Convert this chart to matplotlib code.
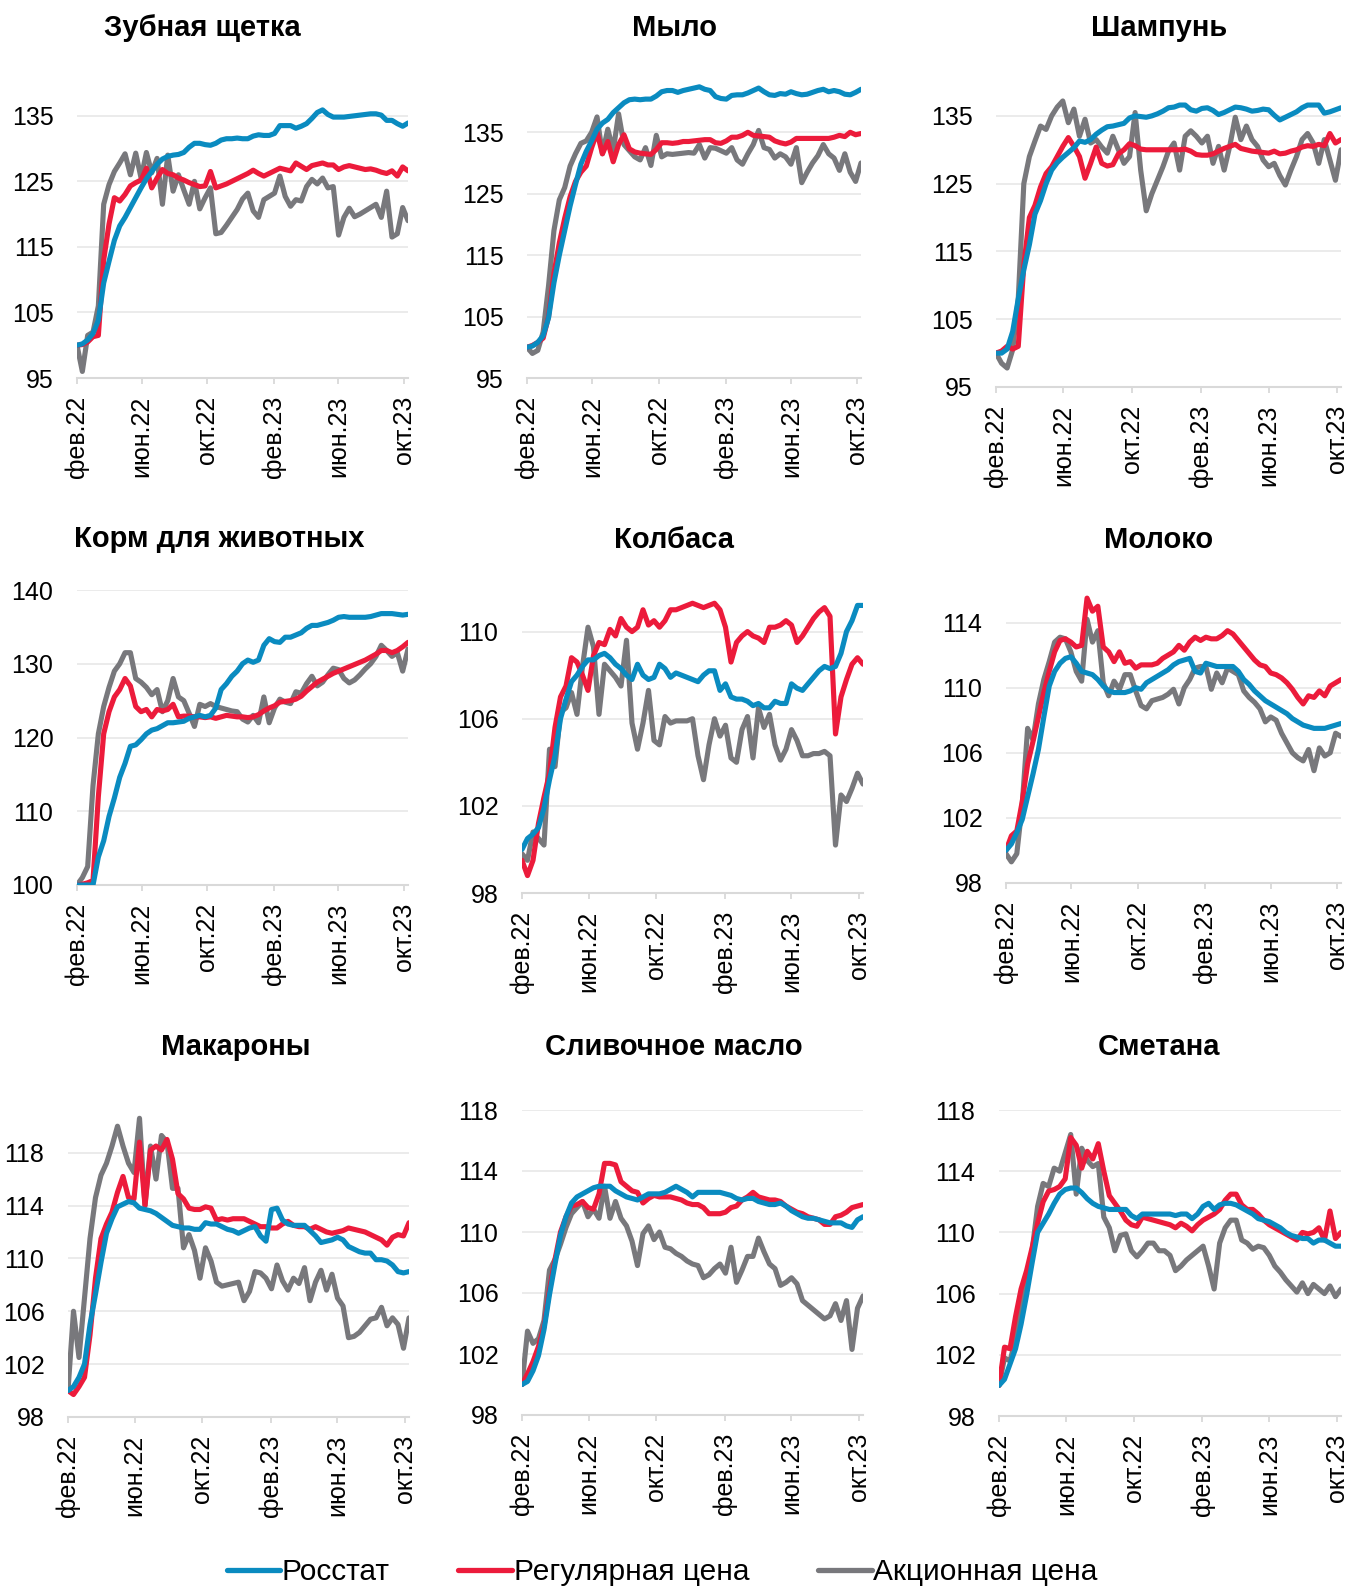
import matplotlib
matplotlib.use('Agg')
import matplotlib.pyplot as plt
import pandas as pd
from matplotlib.lines import Line2D

plt.rcParams['font.family'] = ['Liberation Sans', 'DejaVu Sans']

# даты наблюдений (примерно раз в 10 дней), фев.22 - окт.23
dates = pd.date_range('2022-02-01', '2023-10-08', periods=63)
tick_dates = pd.to_datetime(['2022-02-01', '2022-06-01', '2022-10-01',
                             '2023-02-01', '2023-06-01', '2023-10-01'])
tick_labels = ['фев.22', 'июн.22', 'окт.22', 'фев.23', 'июн.23', 'окт.23']
series_names = ['Росстат', 'Регулярная цена', 'Акционная цена']

# Зубная щетка
zub_ross = [100, 100.2, 100.8, 101.8, 103.8, 109.5, 112.8, 116, 118.2, 119.5, 121, 122.5, 124, 125.4, 126.5,
            127.6, 128.4, 128.8, 129, 129.1, 129.4, 130.2, 130.8, 130.8, 130.6, 130.5, 130.8, 131.3, 131.5,
            131.5, 131.6, 131.5, 131.5, 131.9, 132.1, 132, 132, 132.3, 133.5, 133.5, 133.5, 133.1, 133.4,
            133.8, 134.6, 135.5, 135.9, 135.2, 134.8, 134.8, 134.8, 134.9, 135, 135.1, 135.2, 135.3, 135.3,
            135.1, 134.3, 134.3, 133.8, 133.4, 133.9]
zub_reg = [100, 100.1, 100.5, 101.3, 101.5, 113, 118.5, 122.5, 122, 123, 124.3, 124.8, 125.2, 127, 124,
           125.5, 126.8, 126.2, 126, 125.5, 125.2, 124.8, 124.5, 124.2, 124.3, 126.5, 124, 124.3, 124.6, 125,
           125.4, 125.8, 126.2, 126.7, 126.2, 125.8, 126.2, 126.6, 127, 126.8, 126.6, 127.8, 127.3, 126.8,
           127.4, 127.6, 127.8, 127.5, 127.5, 126.8, 127.2, 127.4, 127.2, 127, 126.8, 126.9, 126.7, 126.4,
           126.2, 126.6, 125.8, 127.2, 126.6]
zub_promo = [100, 96, 101.5, 102, 106, 121.5, 124.5, 126.5, 127.8, 129.2, 126, 129.3, 125.5, 129.4, 126.3,
             128.5, 121.5, 129, 123.5, 126, 123.7, 121.5, 125, 120.8, 122.5, 124, 117, 117.2, 118.3, 119.5,
             120.7, 122.3, 123.2, 120.5, 119.5, 122.2, 122.7, 123.2, 125.8, 122.7, 121.2, 122.2, 122, 124.2,
             125.3, 124.6, 125.5, 124, 124.2, 116.8, 119.5, 120.9, 119.6, 120, 120.5, 121, 121.5, 119.5,
             123.5, 116.5, 117, 121, 119]

# Мыло
mylo_ross = [100, 100.2, 100.8, 101.9, 104.8, 110.5, 115, 119, 123, 126.5, 129.8, 131.9, 133.6, 135.5, 136.5,
             137.1, 138.2, 139, 139.8, 140.3, 140.4, 140.3, 140.4, 140.4, 140.9, 141.6, 141.8, 141.8, 141.5,
             141.8, 142, 142.2, 142.4, 142, 141.8, 140.8, 140.5, 140.4, 141, 141.1, 141.1, 141.4, 141.8, 142.2,
             141.6, 141.1, 141, 141.3, 141.2, 141.6, 141.3, 141.1, 141.2, 141.5, 141.8, 142, 141.6, 141.8,
             141.6, 141.2, 141.1, 141.5, 142]
mylo_reg = [100, 100.3, 100.8, 101.5, 105, 112, 117, 121, 124.5, 127, 128.5, 129.5, 132.5, 135, 131.5, 133.5,
            130.2, 133, 134.6, 132.3, 131.8, 131.6, 131.5, 131.4, 132.2, 133.3, 133.3, 133.2, 133.3, 133.5,
            133.5, 133.6, 133.7, 133.8, 133.8, 133.3, 133.2, 133.6, 134.2, 134.2, 134.5, 135, 134.5, 134.4,
            134.3, 134.2, 133.6, 133.3, 133.1, 133.4, 134, 134, 134, 134, 134, 134, 134, 134.2, 134.5, 134.3,
            135, 134.6, 134.8]
mylo_promo = [100, 99, 99.5, 102.5, 110, 119, 124, 126, 129.5, 131.5, 133.2, 133.6, 135, 137.5, 131.5, 135.5,
              132, 138, 133, 132, 131, 130.5, 132.5, 129.6, 134.5, 131, 131.5, 131.4, 131.5, 131.6, 131.7,
              131.6, 133, 130.8, 132.5, 132.4, 132, 131.6, 132.5, 130.5, 129.8, 131.5, 133, 135.3, 132.5,
              132.2, 130.8, 131.5, 131, 129.8, 132.5, 126.8, 128.5, 130, 131.2, 133, 131.5, 130.8, 128.8,
              131.5, 128.5, 127, 130]

# Шампунь
sham_ross = [100, 100, 100.6, 103.2, 108, 112.3, 116, 120.5, 122.5, 125, 127, 128.1, 128.9, 129.6, 130.3,
             131.3, 131.1, 131.5, 132.3, 132.9, 133.4, 133.5, 133.7, 133.9, 134.7, 135, 134.9, 134.8, 135,
             135.3, 135.7, 136.2, 136.3, 136.6, 136.6, 135.9, 135.7, 136.1, 136.2, 135.8, 135.2, 135.5, 135.9,
             136.3, 136.2, 136, 135.7, 135.8, 136, 135.9, 135.1, 134.4, 134.8, 135.2, 135.6, 136.2, 136.6,
             136.6, 136.6, 135.4, 135.6, 135.9, 136.2]
sham_reg = [100, 100.3, 101, 100.6, 101, 113, 120, 121.8, 124.5, 126.5, 127.5, 129, 130.5, 131.8, 130.5, 129,
            125.8, 128, 130.4, 128, 127.6, 127.8, 129.4, 130, 130.9, 130.6, 130.1, 130, 130, 130, 130, 130,
            130, 130, 130.1, 129.8, 129.3, 129.2, 129.2, 129.4, 129.8, 130.2, 130.5, 130.8, 130.2, 130, 129.8,
            129.7, 129.6, 129.5, 129.8, 129.4, 129.5, 129.8, 130, 130.4, 130.6, 130.5, 130.8, 130.6, 132.4,
            131, 131.5]
sham_promo = [100, 98.5, 97.8, 100.5, 108, 125, 129, 131.3, 133.5, 133, 135, 136.3, 137.2, 134, 136, 132,
              134.5, 131, 131.5, 130.4, 129.5, 132, 130, 128, 129, 135.5, 127, 121, 123.5, 125.5, 127.5, 129.8,
              131, 127, 132, 132.8, 132, 131, 132, 128, 130.5, 127, 130.5, 134.8, 131.5, 133.5, 131.5, 130.5,
              128.5, 127.5, 128, 126.2, 124.8, 127, 129, 131.5, 132.4, 131, 128, 131.5, 128.5, 125.5, 130]

# Корм для животных
korm_ross = [100, 100, 100, 100, 103.8, 106, 109.3, 111.8, 114.6, 116.5, 118.8, 119, 119.7, 120.5, 121, 121.2,
             121.6, 122, 122, 122.1, 122.2, 122.6, 122.8, 123, 122.8, 123, 124, 126.5, 127.3, 128.3, 129, 130,
             130.5, 130.2, 130.5, 132.5, 133.4, 133, 132.9, 133.6, 133.6, 133.9, 134.2, 134.8, 135.2, 135.2,
             135.4, 135.6, 135.9, 136.3, 136.4, 136.3, 136.3, 136.3, 136.3, 136.4, 136.6, 136.8, 136.8, 136.8,
             136.7, 136.6, 136.7]
korm_reg = [100, 100.1, 100.3, 100.6, 112, 120.5, 123.5, 125.5, 126.5, 128, 127, 124.2, 123.5, 123.8, 122.8,
            123.8, 123.6, 123.8, 124.5, 122.8, 122.9, 122.9, 122.8, 122.8, 122.7, 122.8, 122.6, 122.8, 123,
            122.9, 122.8, 122.8, 122.7, 122.8, 123.1, 123.6, 124, 124.3, 124.8, 124.9, 125, 125.2, 125.6,
            126.3, 126.9, 127.5, 127.9, 128.3, 128.7, 129, 129.3, 129.6, 129.9, 130.2, 130.5, 130.9, 131.3,
            131.8, 131.8, 131.5, 131.8, 132.3, 132.9]
korm_promo = [100, 101, 102.5, 113.5, 120.5, 124.2, 126.8, 129, 130, 131.5, 131.5, 128, 127.5, 126.8, 125.8,
              126.5, 123.5, 125, 128, 125.5, 125, 123.3, 121.5, 124.5, 124.2, 124.6, 124.2, 124, 123.8, 123.6,
              123.5, 122.5, 122.1, 123, 122, 125.5, 122, 124, 125.2, 124.8, 124.6, 126.2, 126, 127.3, 128.3,
              127, 127.5, 128.5, 129.4, 129.2, 128, 127.4, 127.8, 128.5, 129.3, 130, 131, 132.5, 131.8, 131,
              131.5, 129, 132]

# Колбаса
kolb_ross = [100, 100.5, 100.7, 101, 101.9, 103.2, 104.3, 106, 106.9, 107.7, 108, 108.4, 108.7, 108.7, 108.9,
             109, 108.8, 108.5, 108.3, 108, 107.8, 108.5, 108, 107.8, 107.9, 108.5, 108.3, 107.9, 108.1, 108,
             107.9, 107.8, 107.7, 108, 108.2, 108.2, 107.3, 107.6, 107, 106.9, 106.9, 106.8, 106.6, 106.7,
             106.5, 106.5, 106.8, 106.7, 106.7, 107.6, 107.4, 107.3, 107.6, 107.9, 108.2, 108.4, 108.3, 108.4,
             109, 110, 110.5, 111.2, 111.2]
kolb_reg = [99.5, 98.8, 99.5, 101.2, 102.4, 103.5, 105.6, 107, 107.5, 108.8, 108.6, 108, 107.3, 108.9, 109.5,
            109.4, 110.1, 109.8, 110.6, 110.2, 110, 110.2, 111, 110.3, 110.5, 110.2, 110.5, 111, 111, 111.1,
            111.2, 111.3, 111.2, 111.1, 111.2, 111.3, 111, 110.2, 108.6, 109.5, 109.8, 110, 109.8, 109.7,
            109.5, 110.2, 110.2, 110.3, 110.5, 110.3, 109.5, 109.8, 110.2, 110.6, 110.9, 111.1, 110.7, 105.3,
            107, 107.8, 108.5, 108.8, 108.5]
kolb_promo = [99.8, 99.5, 100.8, 100.5, 100.2, 104.6, 103.8, 106.3, 106.5, 107.2, 106.2, 108.4, 110.2, 109.3,
              106.2, 108.5, 108.2, 107.9, 107.5, 109.6, 105.8, 104.6, 105.8, 107.3, 105, 104.8, 106.1, 105.8,
              105.9, 105.9, 105.9, 106, 104.3, 103.2, 104.8, 106, 105.2, 105.7, 104.2, 104, 105.5, 106.1,
              104.2, 106.5, 105.6, 106.2, 104.8, 104.1, 104.6, 105.5, 105, 104.3, 104.3, 104.4, 104.4, 104.5,
              104.3, 100.2, 102.5, 102.2, 102.8, 103.5, 103]

# Молоко
mol_ross = [100, 100.4, 101.1, 101.9, 103.3, 104.7, 106.2, 108.2, 110.1, 111, 111.5, 111.8, 111.9, 111.5, 111,
            110.9, 110.8, 110.5, 110.1, 109.8, 109.7, 109.7, 109.7, 109.8, 110, 109.9, 110.3, 110.5, 110.7,
            110.9, 111.1, 111.4, 111.6, 111.7, 111.8, 111, 110.9, 111.5, 111.4, 111.3, 111.3, 111.3, 111.3,
            111, 110.5, 110.2, 109.8, 109.5, 109.2, 109, 108.8, 108.6, 108.4, 108.1, 107.9, 107.7, 107.6,
            107.5, 107.5, 107.5, 107.6, 107.7, 107.8]
mol_reg = [100, 100.9, 101.2, 103, 105.3, 106.7, 108.2, 109.7, 111, 112.2, 112.9, 113, 112.8, 112.5, 112.6,
           115.5, 114.7, 115, 112.5, 112.2, 111.6, 112.2, 111.5, 111.6, 111.2, 111.4, 111.4, 111.4, 111.5,
           111.8, 112, 112.2, 112.6, 112.3, 112.8, 113.1, 112.9, 113.1, 113, 113, 113.2, 113.5, 113.3, 112.9,
           112.5, 112.1, 111.7, 111.4, 111.3, 110.9, 110.8, 110.6, 110.3, 109.9, 109.4, 109, 109.5, 109.4,
           109.8, 109.5, 110.1, 110.3, 110.5]
mol_promo = [99.8, 99.3, 99.8, 102.8, 107.5, 106.8, 109, 110.5, 111.6, 112.8, 113.1, 113, 112.2, 111, 110.4,
             114.2, 112.8, 113.5, 110.3, 109.5, 110.4, 109.9, 110.8, 110.8, 109.8, 108.9, 108.7, 109.2, 109.3,
             109.4, 109.6, 109.9, 109, 110, 110.5, 111.2, 111.3, 111.3, 109.9, 110.9, 110.3, 111.2, 111, 110.8,
             109.8, 109.4, 109.1, 108.7, 107.9, 108.2, 108, 107.2, 106.6, 106, 105.7, 105.5, 106.2, 104.9,
             106.3, 105.8, 106, 107.2, 107]

# Макароны
mak_ross = [100, 100.3, 101, 102, 105, 107.3, 109.7, 111.9, 113, 113.9, 114.1, 114.3, 114.2, 113.8, 113.7,
            113.6, 113.4, 113.1, 112.8, 112.5, 112.4, 112.3, 112.3, 112.2, 112.2, 112.7, 112.6, 112.6, 112.4,
            112.2, 112.1, 111.9, 112.1, 112.3, 112.4, 111.7, 111.3, 113.7, 113.8, 112.9, 112.6, 112.5, 112.5,
            112.5, 112.1, 111.7, 111.2, 111.3, 111.4, 111.6, 111.4, 110.9, 110.7, 110.5, 110.4, 110.4, 109.9,
            109.9, 109.8, 109.5, 109, 108.9, 109]
mak_reg = [100, 99.7, 100.3, 101, 104.2, 108.5, 111.5, 112.6, 113.5, 115, 116.2, 114.6, 114.5, 118.8, 114,
           118.2, 118.5, 118.2, 119, 117.5, 114.9, 114.5, 113.8, 113.7, 113.7, 113.9, 113.8, 112.9, 113, 112.9,
           113, 113, 113, 112.8, 112.6, 112.4, 112.4, 112.3, 112.3, 112.6, 112.8, 112.5, 112.4, 112.4, 112.2,
           112.4, 112.2, 112, 111.9, 112, 112.1, 112.3, 112.2, 112.1, 112, 111.8, 111.6, 111.4, 111, 111.6,
           111.8, 111.7, 112.7]
mak_promo = [100, 106, 102.5, 107, 111.5, 114.6, 116.3, 117.2, 118.5, 120, 118.5, 117.2, 116.5, 120.6, 114,
             118.5, 116, 119.3, 118.8, 115.3, 115.3, 110.8, 111.8, 110.6, 108.5, 110.8, 109.8, 108.2, 107.9,
             108, 108.1, 108.2, 106.8, 107.5, 109, 108.9, 108.5, 107.7, 109.5, 108.3, 107.6, 108.5, 108.1,
             109.3, 106.8, 108.2, 109.1, 107.6, 108.8, 107, 106.4, 104, 104.1, 104.4, 104.9, 105.4, 105.5,
             106.3, 104.9, 105.5, 105, 103.2, 105.5]

# Сливочное масло
masl_ross = [100, 100.2, 100.9, 101.9, 103.6, 105.9, 107.9, 109.8, 111, 111.9, 112.3, 112.5, 112.7, 112.9, 113,
             113, 113, 112.7, 112.5, 112.3, 112.2, 112.1, 112.3, 112.5, 112.5, 112.5, 112.6, 112.8, 113, 112.8,
             112.6, 112.3, 112.6, 112.6, 112.6, 112.6, 112.6, 112.5, 112.4, 112.2, 112.1, 112.2, 112.2, 112,
             111.9, 111.8, 111.8, 111.9, 111.7, 111.4, 111.2, 111, 110.9, 110.9, 110.8, 110.7, 110.6, 110.6,
             110.6, 110.4, 110.3, 110.8, 111]
masl_reg = [100, 100.7, 101.5, 102.5, 103.8, 106.2, 108.2, 110, 111, 111.7, 111.8, 112, 111.6, 111.5, 112.5,
            114.5, 114.5, 114.4, 113.3, 113, 112.7, 112.6, 111.9, 112.2, 112.4, 112.3, 112.3, 112.3, 112.2,
            112.1, 111.9, 111.8, 111.8, 111.6, 111.2, 111.2, 111.2, 111.3, 111.6, 111.7, 112.1, 112.3, 112.6,
            112.3, 112.2, 112.1, 112.1, 112, 111.7, 111.5, 111.3, 111.2, 111, 110.9, 110.8, 110.5, 110.5, 111,
            111.1, 111.3, 111.6, 111.7, 111.8]
masl_promo = [100, 103.5, 102.7, 103, 104.2, 107.5, 108.2, 109.2, 110.3, 111.2, 111.6, 112, 111, 111.5, 110.9,
              113, 110.9, 112, 110.9, 110.4, 109.4, 107.8, 109.9, 110.4, 109.5, 110, 109, 108.9, 108.6, 108.4,
              108.1, 107.9, 107.8, 107, 107.2, 107.6, 107.9, 107.3, 109, 106.7, 107.5, 108.4, 108.4, 109.6,
              108.7, 107.9, 107.6, 106.5, 106.7, 107, 106.6, 105.5, 105.2, 104.9, 104.6, 104.3, 104.5, 105.3,
              104.2, 105.5, 102.3, 105, 105.8]

# Сметана
smet_ross = [100, 100.4, 101.4, 102.4, 104, 105.9, 108, 110, 110.6, 111.2, 111.9, 112.5, 112.8, 112.9, 112.9,
             112.6, 112.2, 111.9, 111.7, 111.6, 111.5, 111.5, 111.5, 111.5, 111.1, 110.9, 111.2, 111.2, 111.2,
             111.2, 111.2, 111.2, 111.1, 111.2, 111.2, 110.9, 111.2, 111.7, 111.9, 111.5, 111.8, 111.9, 111.9,
             111.8, 111.6, 111.4, 111.2, 110.9, 110.8, 110.7, 110.5, 110.3, 110, 109.8, 109.7, 109.6, 109.6,
             109.3, 109.5, 109.5, 109.3, 109.1, 109.1]
smet_reg = [100, 102.5, 102.4, 104.5, 106.3, 107.5, 109, 110.6, 112, 112.7, 112.8, 113, 113.5, 116.2, 115.7,
            114.2, 115.3, 114.8, 115.8, 114, 112.4, 111.9, 111.4, 110.8, 110.5, 110.4, 111, 110.9, 110.8, 110.7,
            110.6, 110.5, 110.3, 110.6, 110.4, 110.1, 110.5, 110.8, 111, 111.2, 111.5, 112.1, 112.5, 112.5,
            111.8, 111.5, 111.5, 111.2, 110.8, 110.5, 110.3, 110.1, 109.9, 109.7, 109.5, 110, 109.9, 110, 110.3,
            109.5, 111.4, 109.6, 110]
smet_promo = [100, 101.8, 101.6, 103, 105.5, 107, 108.8, 111.7, 113.2, 113, 114.2, 114, 115.2, 116.4, 112.5,
              115.5, 114.7, 114.3, 114.5, 111, 110.3, 108.8, 109.8, 109.9, 108.8, 108.4, 108.8, 109.3, 109.3,
              108.8, 108.8, 108.5, 107.5, 107.8, 108.2, 108.5, 108.8, 109.1, 107.8, 106.3, 109.3, 110.3, 110.8,
              110.8, 109.5, 109.3, 108.9, 109.1, 109, 108.5, 107.8, 107.4, 106.9, 106.5, 106.1, 106.7, 106,
              106.6, 106.3, 106, 106.5, 105.8, 106.3]

BLUE = '#0A8BC0'
RED = '#EC1B3B'
GRAY = '#78787C'

W, H = 1363, 1590

# (заголовок, ряды, пределы Y, деления Y, рамка в пикселях l, r, top, bottom, центр заголовка x, базовая линия y)
panels = [
    ('Зубная щетка', zub_ross, zub_reg, zub_promo, (95, 140), [95, 105, 115, 125, 135], (77, 408, 83, 378), (202, 36)),
    ('Мыло', mylo_ross, mylo_reg, mylo_promo, (95, 144), [95, 105, 115, 125, 135], (527, 861, 77, 378), (674, 36)),
    ('Шампунь', sham_ross, sham_reg, sham_promo, (95, 140), [95, 105, 115, 125, 135], (996, 1341, 82, 387), (1159, 36)),
    ('Корм для животных', korm_ross, korm_reg, korm_promo, (100, 140), [100, 110, 120, 130, 140], (77, 408, 590, 885), (219, 547)),
    ('Колбаса', kolb_ross, kolb_reg, kolb_promo, (98, 112), [98, 102, 106, 110], (522, 863, 588, 893), (674, 548)),
    ('Молоко', mol_ross, mol_reg, mol_promo, (98, 116), [98, 102, 106, 110, 114], (1006, 1341, 590, 883), (1159, 548)),
    ('Макароны', mak_ross, mak_reg, mak_promo, (98, 121), [98, 102, 106, 110, 114, 118], (68, 409, 1113, 1417), (236, 1055)),
    ('Сливочное масло', masl_ross, masl_reg, masl_promo, (98, 118), [98, 102, 106, 110, 114, 118], (522, 863, 1110, 1415), (674, 1055)),
    ('Сметана', smet_ross, smet_reg, smet_promo, (98, 118), [98, 102, 106, 110, 114, 118], (999, 1341, 1110, 1416), (1159, 1055)),
]

fig = plt.figure(figsize=(W / 100, H / 100), dpi=100)

line_kw = dict(lw=3.7, solid_capstyle='round', solid_joinstyle='round')

for title, ross, reg, promo, ylim, yticks, box, tpos in panels:
    l, r, t, b = box
    ax = fig.add_axes([l / W, 1 - b / H, (r - l) / W, (b - t) / H])

    # акционная снизу, Росстат сверху
    ax.plot(dates[:len(promo)], promo, color=GRAY, zorder=2, **line_kw)
    ax.plot(dates[:len(reg)], reg, color=RED, zorder=3, **line_kw)
    ax.plot(dates[:len(ross)], ross, color=BLUE, zorder=4, **line_kw)

    ax.set_xlim(dates[0], dates[-1])
    ax.set_ylim(*ylim)
    ax.set_yticks(yticks)
    ax.set_xticks(tick_dates)
    ax.set_xticklabels(tick_labels, rotation=90)

    ax.grid(axis='y', color='#E9E9E9', lw=1.3)
    ax.grid(axis='x', visible=False)
    ax.set_axisbelow(True)
    for s in ['top', 'right', 'left']:
        ax.spines[s].set_visible(False)
    ax.spines['bottom'].set_color('#D9D9D9')
    ax.spines['bottom'].set_linewidth(1.5)
    ax.spines['bottom'].set_zorder(1)

    ax.tick_params(axis='y', length=0, pad=17, labelsize=18)
    ax.tick_params(axis='x', length=4, width=1.3, color='#D9D9D9', pad=9, labelsize=18)

    fig.text(tpos[0] / W, 1 - tpos[1] / H, title, ha='center', va='baseline',
             fontsize=21, fontweight='bold')

handles = [Line2D([], [], color=c, lw=3.8, solid_capstyle='round') for c in (BLUE, RED, GRAY)]
fig.legend(handles, series_names, loc='center', bbox_to_anchor=(662 / W, 1 - 1572 / H),
           ncol=3, frameon=False, fontsize=21.5, handlelength=1.8, handletextpad=0.05,
           columnspacing=2.3, borderpad=0.2)

fig.savefig('out.png', dpi=100)
